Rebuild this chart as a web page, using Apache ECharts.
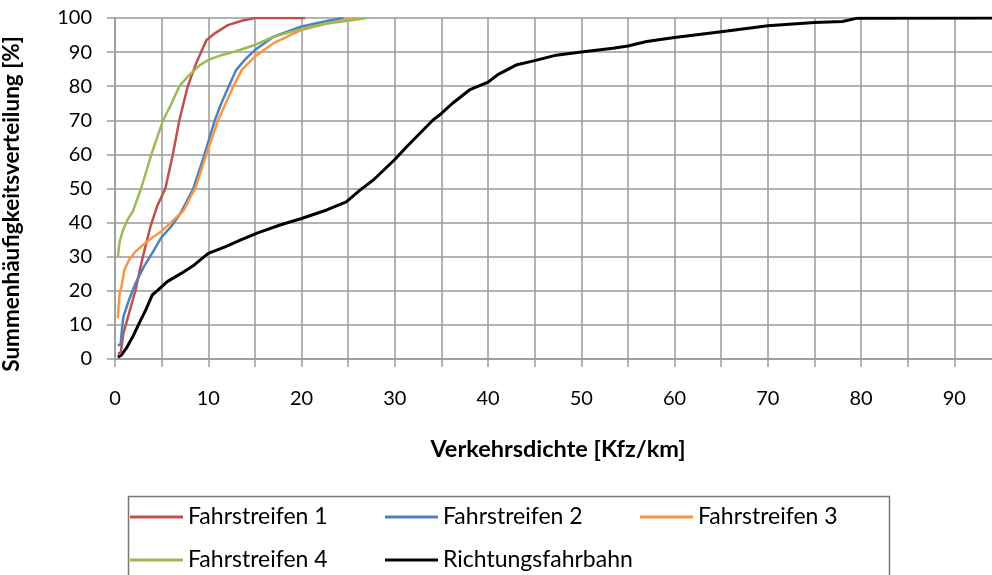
<!DOCTYPE html>
<html>
<head>
<meta charset="utf-8">
<script src="https://cdn.jsdelivr.net/npm/echarts@6/dist/echarts.min.js"></script>
<style>
html,body{margin:0;padding:0;background:#fff;}
#chart{width:992px;height:575px;}
</style>
</head>
<body>
<div id="chart"></div>
<script>
// ---- data ----
var seriesNames = ['Fahrstreifen 1', 'Fahrstreifen 2', 'Fahrstreifen 3', 'Fahrstreifen 4', 'Richtungsfahrbahn'];
var xTickLabels = [0, 10, 20, 30, 40, 50, 60, 70, 80, 90];
var yTickLabels = [0, 10, 20, 30, 40, 50, 60, 70, 80, 90, 100];

var f1X = [0.3, 0.6, 0.7, 0.9, 1.5, 2.2, 2.9, 3.8, 4.5, 5.4, 6.2, 6.9, 7.8, 8.7, 9.8, 10.7, 12.1, 13.6, 15.0, 20.4];
var f1Y = [1.7, 1.7, 3.6, 7.5, 13.4, 20.2, 29.0, 38.8, 44.7, 50.0, 60.0, 70.0, 80.0, 86.7, 93.5, 95.5, 97.9, 99.2, 100, 100];

var f2X = [0.3, 0.6, 0.7, 0.9, 1.5, 2.2, 3.1, 4.2, 4.9, 6.0, 6.9, 7.6, 8.4, 9.6, 10.7, 11.4, 12.2, 13.0, 13.9, 15.0, 17.0, 20.0, 22.7, 24.5];
var f2Y = [4.1, 4.1, 7.5, 12.4, 17.3, 22.2, 27.1, 32.0, 35.4, 38.8, 42.2, 45.7, 50.0, 60.0, 70.0, 75.0, 80.0, 84.8, 87.7, 90.6, 94.5, 97.5, 99.1, 100];

var f3X = [0.3, 0.5, 0.5, 0.7, 1.0, 1.5, 2.2, 3.4, 4.9, 6.3, 7.4, 8.3, 8.6, 9.8, 11.05, 12.7, 13.6, 15.0, 17.0, 20.0, 22.7, 25.0, 26.0];
var f3Y = [11.9, 11.9, 19.3, 21.2, 26.1, 29.0, 31.5, 34.4, 37.3, 40.8, 43.7, 48.6, 50.0, 60.0, 70.0, 80.0, 84.8, 88.7, 92.6, 96.5, 98.4, 99.6, 100];

var f4X = [0.3, 0.5, 0.5, 0.86, 1.4, 1.9, 2.8, 3.9, 5.15, 5.9, 6.9, 7.8, 9.1, 10.0, 11.4, 12.8, 15.0, 17.0, 20.0, 22.7, 25.0, 27.0];
var f4Y = [29.8, 29.8, 34.4, 37.8, 41.1, 43.2, 50.0, 60.0, 70.0, 74.0, 80.0, 82.8, 86.2, 87.7, 89.1, 90.1, 92.1, 94.5, 96.8, 98.4, 99.2, 100];

var rfX = [0.3, 0.7, 1.2, 1.9, 2.6, 3.3, 4.0, 4.6, 5.6, 7.1, 8.5, 10.0, 11.8, 13.5, 15.3, 17.7, 20.0, 22.7, 24.8, 26.3, 27.7, 30.0, 31.3, 32.7, 34.1, 35.0, 36.2, 38.0, 40.0, 41.0, 43.0, 45.0, 47.3, 50.0, 53.4, 55.0, 57.0, 60.0, 65.0, 70.0, 75.0, 78.0, 79.5, 95.0];
var rfY = [0.5, 1.2, 3.1, 6.5, 10.5, 14.4, 18.8, 20.2, 22.7, 25.1, 27.6, 31.0, 32.9, 34.9, 37.0, 39.3, 41.2, 43.7, 46.1, 49.6, 52.5, 58.5, 62.3, 66.2, 70.1, 72.0, 75.0, 78.9, 81.2, 83.3, 86.2, 87.5, 89.1, 90.0, 91.1, 91.8, 93.1, 94.3, 96.0, 97.7, 98.7, 99.0, 99.9, 100];

var seriesColors = ['#C0504D', '#4F81BD', '#F79646', '#9BBB59', '#000000'];

// ---- build ----
function zip(xs, ys) { return xs.map(function (x, i) { return [x, ys[i]]; }); }
var allData = [zip(f1X, f1Y), zip(f2X, f2Y), zip(f3X, f3Y), zip(f4X, f4Y), zip(rfX, rfY)];

var FONT = 'Lato';
var chart = echarts.init(document.getElementById('chart'), null, { renderer: 'canvas' });

var legendPos = [
  { left: 130, top: 504 }, { left: 385, top: 504 }, { left: 640, top: 504 },
  { left: 130, top: 547 }, { left: 385, top: 547 }
];

var option = {
  backgroundColor: '#ffffff',
  animation: false,
  textStyle: { fontFamily: FONT },
  grid: { left: 115, width: 886, top: 18, height: 341, containLabel: false, outerBoundsMode: 'none' },
  xAxis: {
    type: 'value', min: 0, max: 95, interval: 5,
    name: 'Verkehrsdichte [Kfz/km]', nameLocation: 'middle', nameGap: 78,
    nameTextStyle: { fontFamily: FONT, fontWeight: 'bold', fontSize: 23.5, color: '#000' },
    axisLine: { show: true, lineStyle: { color: '#9a9a9a', width: 1.5 } },
    axisTick: { show: true, length: 8, lineStyle: { color: '#9a9a9a', width: 1.5 } },
    axisLabel: {
      margin: 30, fontSize: 20, color: '#000', fontFamily: FONT,
      formatter: function (v) { return xTickLabels.indexOf(v) >= 0 ? String(v) : ''; }
    },
    splitLine: { show: true, lineStyle: { color: '#9a9a9a', width: 1.5 } }
  },
  yAxis: {
    type: 'value', min: 0, max: 100, interval: 10,
    name: 'Summenhäufigkeitsverteilung [%]', nameLocation: 'middle', nameGap: 92,
    nameTextStyle: { fontFamily: FONT, fontWeight: 'bold', fontSize: 22.5, color: '#000', padding: [0, 31, 0, 0] },
    axisLine: { show: true, lineStyle: { color: '#9a9a9a', width: 1.5 } },
    axisTick: { show: true, length: 8, lineStyle: { color: '#9a9a9a', width: 1.5 } },
    axisLabel: {
      margin: 23, fontSize: 20, color: '#000', fontFamily: FONT,
      formatter: function (v) { return yTickLabels.indexOf(v) >= 0 ? String(v) : ''; }
    },
    splitLine: { show: true, lineStyle: { color: '#9a9a9a', width: 1.5 } }
  },
  legend: seriesNames.map(function (n, i) {
    return {
      data: [n], left: legendPos[i].left, top: legendPos[i].top, padding: 0,
      icon: 'rect', itemWidth: 53, itemHeight: 3, itemGap: 5,
      textStyle: { fontFamily: FONT, fontSize: 23, color: '#000', lineHeight: 26 },
      selectedMode: false
    };
  }),
  graphic: [{
    type: 'rect', left: 126, top: 494, z: -1,
    shape: { x: 0, y: 0, width: 761, height: 120 },
    style: { fill: 'none', stroke: '#777777', lineWidth: 1.5 }
  }],
  series: seriesNames.map(function (n, i) {
    return {
      name: n, type: 'line', data: allData[i], symbol: 'none', smooth: false,
      lineStyle: { color: seriesColors[i], width: i === 4 ? 3 : 2.5 },
      itemStyle: { color: seriesColors[i] },
      z: i === 4 ? 1 : 2 + i,
      clip: true
    };
  })
};
chart.setOption(option);
</script>
</body>
</html>
